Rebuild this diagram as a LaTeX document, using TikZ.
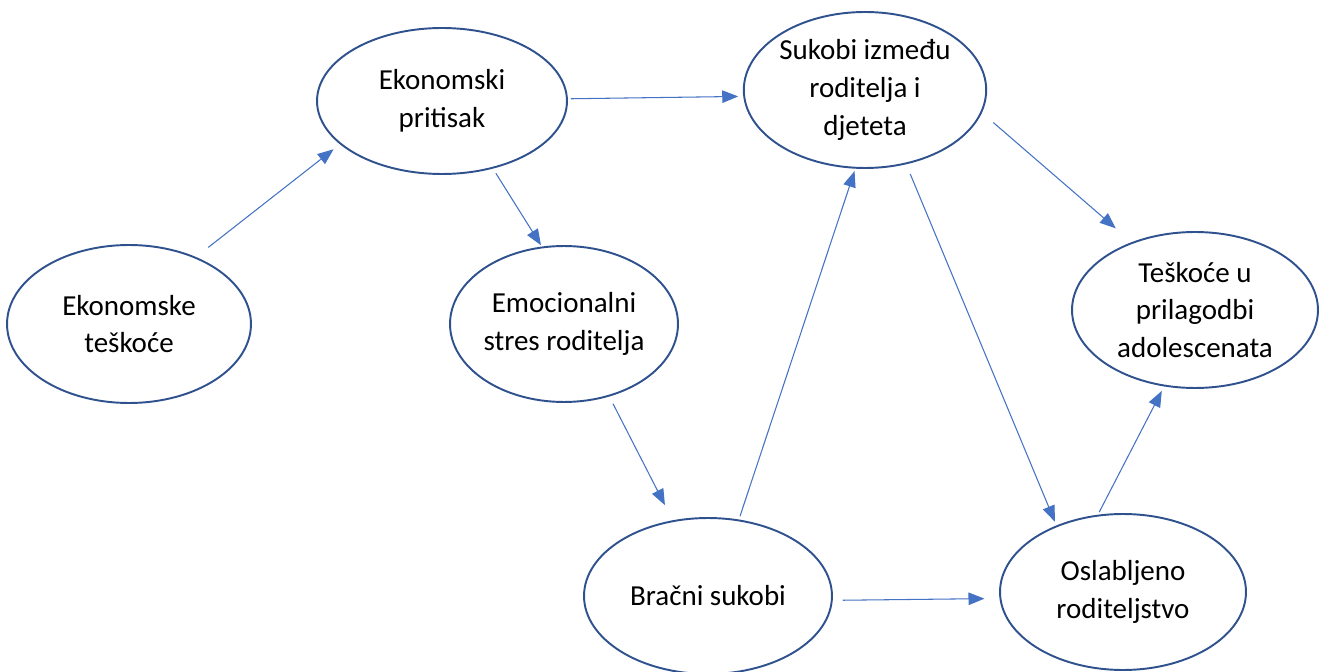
\documentclass[tikz,border=0pt]{standalone}
\usepackage{fontspec}
\setmainfont{Carlito}
\usetikzlibrary{arrows.meta,shapes.geometric}
\definecolor{ellblue}{HTML}{2F528F}
\definecolor{arrblue}{HTML}{4472C4}
\tikzset{
    factor/.style = {
        draw=ellblue,
        shape=ellipse,
        inner sep=0pt,
        minimum width=4.9cm,
        minimum height=3.12cm,
        line width=1.1pt,
        align=center,
        font=\fontsize{16.5}{21.5}\selectfont
    },
    link/.style = {
        draw=arrblue,
        line width=0.6pt
    },
    >={Triangle[length=0.32cm, width=0.25cm]},
}

\begin{document}
\begin{tikzpicture}[x=0.02cm, y=-0.02cm]
        \useasboundingbox (0,0) rectangle (1323,672);

        \node[factor, minimum width=4.88cm, minimum height=3.16cm] (teskoce) at (129,324) {Ekonomske\\teškoće};
        \node[factor, minimum width=5cm, minimum height=2.92cm] (pritisak) at (442,101) {Ekonomski\\pritisak};
        \node[factor, minimum width=4.56cm] (stres) at (564,324) {Emocionalni\\stres roditelja};
        \node[factor, minimum width=4.68cm] (sukobi) at (865,90) {Sukobi između\\roditelja i\\djeteta};
        \node[factor, minimum width=4.92cm] (prilagodba) at (1195,310) {Teškoće u\\prilagodbi\\adolescenata};
        \node[factor, minimum width=4.96cm] (bracni) at (708,596) {Bračni sukobi};
        \node[factor, minimum width=4.92cm] (roditeljstvo) at (1123,592) {Oslabljeno\\roditeljstvo};

        \path[link, ->, shorten <=0.31cm, shorten >=0.16cm] (teskoce.45.7) -- (pritisak.203.6);
        \path[link, ->, shorten <=0.06cm, shorten >=0.1cm] (pritisak.1.4) -- (sukobi.183.7);
        \path[link, ->, shorten <=0.11cm, shorten >=0.03cm] (pritisak.307.8) -- (stres.106.4);
        \path[link, ->, shorten <=0.16cm, shorten >=0.34cm] (stres.302.7) -- (bracni.115.5);
        \path[link, ->, shorten <=0.07cm, shorten >=0.05cm] (bracni.68.6) -- (sukobi.263.6);
        \path[link, ->, shorten <=0.2cm, shorten >=0.3cm] (bracni.358.3) -- (roditeljstvo.183.3);
        \path[link, ->, shorten <=0.21cm, shorten >=0.08cm] (sukobi.299.8) -- (roditeljstvo.135);
        \path[link, ->, shorten <=0.3cm, shorten >=0.42cm] (sukobi.349.8) -- (prilagodba.133.6);
        \path[link, ->, shorten <=0.06cm, shorten >=0.1cm] (roditeljstvo.108.2) -- (prilagodba.248.2);

    \end{tikzpicture}
\end{document}
